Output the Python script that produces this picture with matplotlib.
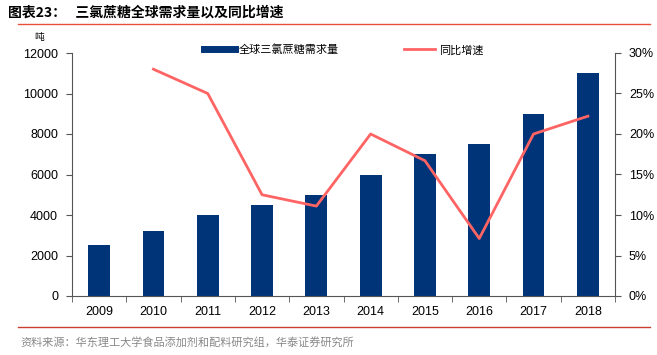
import matplotlib
matplotlib.use("Agg")
import matplotlib.pyplot as plt
import numpy as np
from matplotlib.lines import Line2D

plt.rcParams['font.family'] = ['Liberation Sans', 'Noto Sans CJK SC', 'DejaVu Sans']

years = ["2009", "2010", "2011", "2012", "2013", "2014", "2015", "2016", "2017", "2018"]
demand = [2500, 3200, 4000, 4500, 5000, 6000, 7000, 7500, 9000, 11000]
growth_years = ["2010", "2011", "2012", "2013", "2014", "2015", "2016", "2017", "2018"]
growth = [28.0, 25.0, 12.5, 11.1, 20.0, 16.7, 7.1, 20.0, 22.2]
left_ticks = [0, 2000, 4000, 6000, 8000, 10000, 12000]
right_ticks = [0, 5, 10, 15, 20, 25, 30]

bar_color = "#003478"
line_color = "#FF6464"
cjk = ['Noto Sans CJK SC', 'DejaVu Sans']

fig = plt.figure(figsize=(6.57, 3.55), dpi=100)
ax = fig.add_axes([72/657, 1-296/355, (615-72)/657, (296-53)/355])

x = np.arange(len(years))
ax.bar(x, demand, width=0.4, color=bar_color, zorder=2)
ax.set_xlim(-0.5, len(years) - 0.5)
ax.set_ylim(0, 12000)
ax.set_yticks(left_ticks)
ax.set_yticklabels([str(v) for v in left_ticks], fontsize=9)
ax.set_xticks(x)
ax.set_xticklabels(years, fontsize=9)
ax.tick_params(axis='x', length=0, pad=7)
ax.set_xticks(np.arange(len(years) + 1) - 0.5, minor=True)
ax.tick_params(axis='x', which='minor', length=4, direction='out', color='#555555')
ax.tick_params(axis='y', length=4, direction='out', color='#555555', pad=6)
for s in ['top', 'right']:
    ax.spines[s].set_visible(False)
ax.spines['left'].set_color('#555555')
ax.spines['bottom'].set_color('#555555')

ax2 = ax.twinx()
gx = [years.index(y) for y in growth_years]
ax2.plot(gx, growth, color=line_color, lw=2, zorder=3)
ax2.set_ylim(0, 30)
ax2.set_yticks(right_ticks)
ax2.set_yticklabels([f"{v}%" for v in right_ticks], fontsize=9)
ax2.tick_params(axis='y', length=4, direction='out', color='#555555', pad=6)
for s in ['top', 'left', 'bottom']:
    ax2.spines[s].set_visible(False)
ax2.spines['right'].set_color('#555555')

# legend
handles = [Line2D([0], [0], color=bar_color, lw=5), Line2D([0], [0], color=line_color, lw=2)]
labels = ["全球三氯蔗糖需求量", "同比增速"]
leg = fig.legend(handles, labels, loc='center', bbox_to_anchor=(0.523, 1-50/355), ncol=2,
                 frameon=False, prop={'family': cjk, 'size': 8}, handlelength=2.8,
                 columnspacing=5.8, handletextpad=0.4)

# unit label
fig.text(34/657, 1-37/355, "吨", fontsize=7, family=cjk, va='center', ha='left')

# title
fig.text(8/657, 1-13/355, "图表23：   三氯蔗糖全球需求量以及同比增速", fontsize=10, fontweight='bold',
         family=cjk, va='center', ha='left')
fig.add_artist(Line2D([18/657, 650/657], [1-24/355, 1-24/355], color='#E8503A', lw=1))

# footer
fig.add_artist(Line2D([18/657, 650/657], [1-327/355, 1-327/355], color='#C8402F', lw=1))
fig.text(20/657, 1-342/355, "资料来源：华东理工大学食品添加剂和配料研究组，华泰证券研究所", fontsize=8,
         color='#888888', family=cjk, va='center', ha='left')

fig.savefig("out.png", dpi=100)
